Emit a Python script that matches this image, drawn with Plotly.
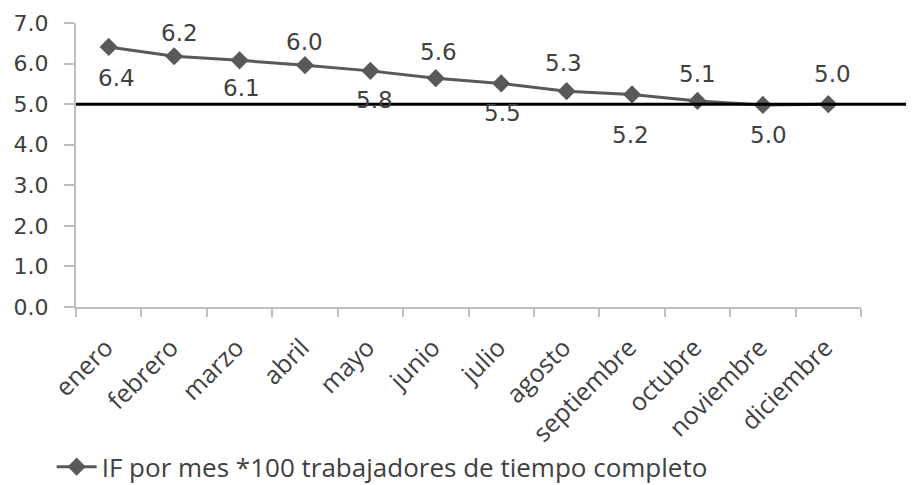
import plotly.graph_objects as go

months = ["enero", "febrero", "marzo", "abril", "mayo", "junio", "julio",
          "agosto", "septiembre", "octubre", "noviembre", "diciembre"]
values = [6.41, 6.18, 6.08, 5.96, 5.82, 5.64, 5.51, 5.32, 5.24, 5.08, 4.98, 5.00]
target = 5.0
series_name = "IF por mes *100 trabajadores de tiempo completo"

# label offsets (pixels) relative to each point: (xshift, yshift)
label_offsets = [(8, -31), (5, 23), (2, -28), (0, 23), (4, -29), (3, 26),
                 (1, -30), (-3, 28), (-2, -41), (0, 27), (6, -30), (4, 30)]

label_font = dict(family="DejaVu Sans, Verdana", size=23, color="#404040")
cat_font = dict(family="Open Sans", size=25, color="#404040")

fig = go.Figure()
fig.add_trace(go.Scatter(
    x=months, y=values, name=series_name, mode="lines+markers",
    line=dict(color="#595959", width=3),
    marker=dict(symbol="diamond", size=14, color="#595959"),
    hoverinfo="skip",
))

for m, v, (dx, dy) in zip(months, values, label_offsets):
    fig.add_annotation(x=m, y=v, text=f"{v:.1f}", showarrow=False,
                       xshift=dx, yshift=dy, font=label_font)

fig.add_shape(type="line", xref="x domain", yref="y",
              x0=0, x1=1.08, y0=target, y1=target,
              line=dict(color="black", width=3), layer="above")

# the page body adds an 8px offset, so the figure is drawn 8px smaller
fig.update_layout(
    width=906, height=477,
    margin=dict(l=68, r=53, t=15, b=178, autoexpand=False),
    plot_bgcolor="white", paper_bgcolor="white",
    showlegend=True,
    legend=dict(orientation="h", x=-0.031, xanchor="left", y=-0.48, yanchor="top",
                font=dict(family="Open Sans", size=26, color="#404040"),
                itemwidth=40),
)
fig.update_xaxes(
    type="category", range=[-0.5, 11.5], showgrid=False, showline=True,
    linecolor="#BFBFBF", linewidth=2,
    ticks="outside", tickson="boundaries", ticklen=8, tickcolor="#BFBFBF", tickwidth=2,
    tickangle=-45, tickfont=cat_font, ticklabelstandoff=14, ticklabelshift=-3,
    automargin=False,
)
fig.update_yaxes(
    range=[0, 7], dtick=1, tickformat=".1f", showgrid=False, zeroline=False,
    showline=True, linecolor="#BFBFBF", linewidth=2,
    ticks="outside", ticklen=10, tickcolor="#BFBFBF", tickwidth=2,
    tickfont=dict(family="DejaVu Sans, Verdana", size=22, color="#404040"),
    ticklabelstandoff=11, automargin=False,
)

fig.write_html("out.html")
